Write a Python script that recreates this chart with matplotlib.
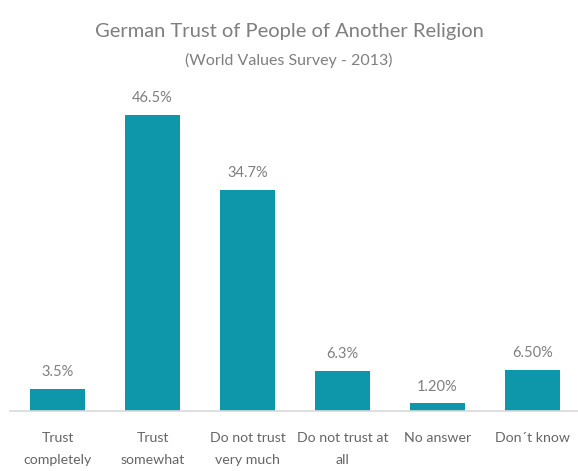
import matplotlib
matplotlib.use("Agg")
import matplotlib.pyplot as plt

categories = ["Trust\ncompletely", "Trust\nsomewhat", "Do not trust\nvery much",
              "Do not trust at\nall", "No answer", "Don\u00b4t know"]
values = [3.5, 46.5, 34.7, 6.3, 1.2, 6.5]
value_labels = ["3.5%", "46.5%", "34.7%", "6.3%", "1.20%", "6.50%"]

plt.rcParams['font.family'] = ['Lato', 'DejaVu Sans']

fig = plt.figure(figsize=(5.78, 4.71), dpi=100)
ax = fig.add_axes([10/578, 60/471, 570/578, 331/471])

bar_color = '#0E96AB'
text_gray = '#7F7F7F'
x = range(len(values))
bars = ax.bar(x, values, width=0.58, color=bar_color)

for b, lab in zip(bars, value_labels):
    ax.annotate(lab, (b.get_x() + b.get_width()/2, b.get_height()),
                xytext=(0, 7), textcoords='offset points',
                ha='center', va='bottom', fontsize=10.5, color=text_gray)

ax.set_xlim(-0.5, 5.5)
ax.set_ylim(0, 52)
ax.set_xticks(list(x))
ax.set_xticklabels(categories, fontsize=10.2, color='#666666', linespacing=2.05)
ax.tick_params(axis='x', length=0, pad=15)
ax.set_yticks([])
for s in ['left', 'right', 'top']:
    ax.spines[s].set_visible(False)
ax.spines['bottom'].set_color('#D9D9D9')
ax.spines['bottom'].set_linewidth(1.2)

fig.text(0.5, 1 - 32/471, "German Trust of People of Another Religion",
         ha='center', va='center', fontsize=14.5, color=text_gray)
fig.text(0.5, 1 - 60/471, "(World Values Survey - 2013)",
         ha='center', va='center', fontsize=11.5, color=text_gray)

fig.savefig("out.png", dpi=100)
